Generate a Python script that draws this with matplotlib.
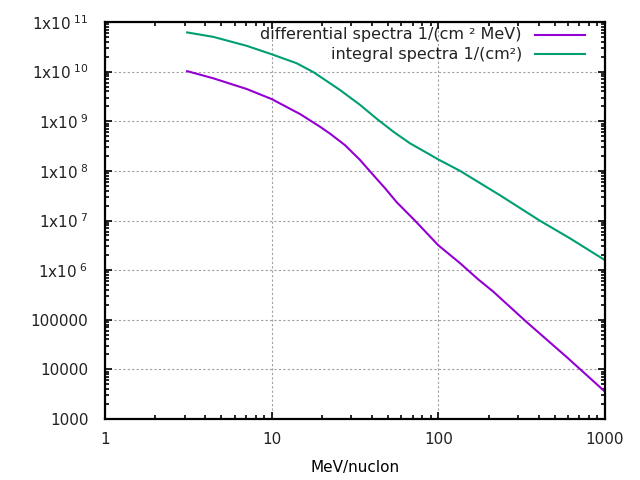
import numpy as np
import matplotlib
matplotlib.use("Agg")
import matplotlib.pyplot as plt
from matplotlib.ticker import FixedLocator, FixedFormatter, LogLocator, NullFormatter

# energies (MeV/nucleon) and log10 of the fluxes
diff_energy = [3.11, 4.47, 7.08, 10, 14.8, 19.5, 22.4, 27.5, 33.9, 38.9, 47.9, 56.2, 72.3,
               100, 135, 174, 213, 337, 588, 1000]
diff_log = [10.01, 9.865, 9.65, 9.447, 9.145, 8.89, 8.75, 8.52, 8.22, 7.99, 7.65, 7.37, 7.0,
            6.50, 6.14, 5.81, 5.57, 4.96, 4.25, 3.55]

int_energy = [3.11, 4.47, 7.08, 10, 14.1, 17.8, 25.7, 33.9, 42.7, 53.7, 67.6, 85.1, 100,
              135, 234, 405, 617, 1000]
int_log = [10.79, 10.70, 10.52, 10.35, 10.17, 9.99, 9.63, 9.33, 9.05, 8.79, 8.555, 8.365, 8.23,
           8.0, 7.51, 7.0, 6.64, 6.20]

diff_label = "differential spectra 1/(cm ² MeV)"
int_label = "integral spectra 1/(cm²)"

ytick_vals = [1e3, 1e4, 1e5, 1e6, 1e7, 1e8, 1e9, 1e10, 1e11]
ytick_labels = ["1000", "10000", "100000", r"1x10$^{\ 6}$", r"1x10$^{\ 7}$",
                r"1x10$^{\ 8}$", r"1x10$^{\ 9}$", r"1x10$^{\ 10}$", r"1x10$^{\ 11}$"]
xtick_vals = [1, 10, 100, 1000]
xtick_labels = ["1", "10", "100", "1000"]

plt.rcParams['font.family'] = ['DejaVu Sans']
plt.rcParams['mathtext.fontset'] = 'dejavusans'
plt.rcParams['font.size'] = 11
plt.rcParams['text.color'] = '#222222'

fig = plt.figure(figsize=(6.4, 4.8), dpi=100)
ax = fig.add_axes([105 / 640, 61 / 480, 500 / 640, 397 / 480])

purple = "#9400d3"
green = "#009e73"
ax.plot(diff_energy, 10 ** np.array(diff_log), color=purple, lw=1.5)
ax.plot(int_energy, 10 ** np.array(int_log), color=green, lw=1.5)

ax.set_xscale("log")
ax.set_yscale("log")
ax.set_xlim(1, 1000)
ax.set_ylim(1e3, 1e11)

ax.xaxis.set_major_locator(FixedLocator(xtick_vals))
ax.xaxis.set_major_formatter(FixedFormatter(xtick_labels))
ax.yaxis.set_major_locator(FixedLocator(ytick_vals))
ax.yaxis.set_major_formatter(FixedFormatter(ytick_labels))
ax.xaxis.set_minor_locator(LogLocator(base=10, subs=np.arange(2, 10)))
ax.yaxis.set_minor_locator(LogLocator(base=10, subs=np.arange(2, 10), numticks=20))
ax.xaxis.set_minor_formatter(NullFormatter())
ax.yaxis.set_minor_formatter(NullFormatter())

ax.tick_params(which="both", direction="in", top=True, right=True, width=1.2,
               color="black", labelcolor="#222222")
ax.tick_params(which="major", length=5, labelsize=11)
ax.tick_params(which="minor", length=3)
ax.tick_params(axis="x", which="major", pad=9)
ax.tick_params(axis="y", which="major", pad=12)
for s in ax.spines.values():
    s.set_linewidth(1.6)

ax.grid(True, which="major", color="#a0a0a0", linestyle=(0, (2, 2)), linewidth=0.8)

ax.set_xlabel("MeV/nuclon", fontsize=11, labelpad=10)

# key, right aligned text with the sample line after it
for i, (lab, col) in enumerate([(diff_label, purple), (int_label, green)]):
    yy = 1 - (13 + 19 * i) / 397
    ax.text(0.834, yy, lab, transform=ax.transAxes, ha="right", va="center", fontsize=11.5)
    ax.plot([0.86, 0.96], [yy, yy], transform=ax.transAxes, color=col, lw=1.5)

fig.savefig("out.png", dpi=100)
